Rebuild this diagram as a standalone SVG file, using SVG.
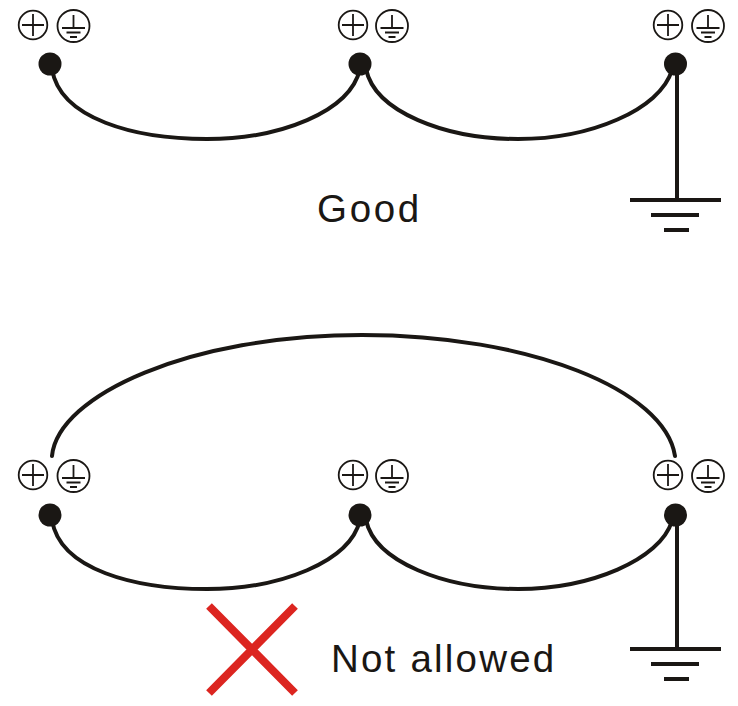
<svg xmlns="http://www.w3.org/2000/svg" width="738" height="706" viewBox="0 0 738 706">
<defs>
<style>
.w{fill:none;stroke:#1a1714;stroke-width:4;stroke-linecap:round}
.g{fill:none;stroke:#1a1714;stroke-width:4}
.s{fill:none;stroke:#1a1714;stroke-width:1.8}
.t{font-family:"Liberation Sans",Arial,sans-serif;font-size:38.500px;fill:#1a1714;letter-spacing:2.200px}
.d{fill:#1a1714}
</style>
<g id="pl"><circle cx="0" cy="0" r="14.300" class="s"/><path d="M-11 0H11M0-11V11" class="s"/></g>
<g id="pe"><circle cx="0" cy="0" r="16" class="s"/><path d="M-11.500 2H11.500M0-11V2M-7 6.500H7M-3.500 11H3.500" class="s"/></g>
<g id="gnd"><path d="M-46 0H45" class="g"/><path d="M-25 15H23" class="g"/><path d="M-12 30H13" class="g"/></g>
</defs>
<rect width="738" height="706" fill="#fff"/>
<g id="connectors">
<path class="w" d="M52 69C60 119 135 139 207 139C280 139 350 112 360 69"/>
<path class="w" d="M366 69C375 112 445 139 518 139C590 139 660 110 672 70"/>
<path class="w" d="M677 70V200"/>
<path class="w" d="M52 456C58 395 190 335 362 335C530 335 665 390 675 456"/>
<path class="w" d="M52 520C60 570 135 589 207 589C280 589 350 562 360 520"/>
<path class="w" d="M366 520C375 562 445 589 518 589C590 589 660 560 672 521"/>
<path class="w" d="M677 521V649"/>
</g>
<g id="node-top-left"><use href="#pl" x="33" y="25"/><use href="#pe" x="73.500" y="26"/><circle class="d" cx="50" cy="64" r="11.500"/></g>
<g id="node-top-mid"><use href="#pl" x="353" y="25"/><use href="#pe" x="392" y="26"/><circle class="d" cx="360" cy="64" r="11.500"/></g>
<g id="node-top-right"><use href="#pl" x="668" y="25"/><use href="#pe" x="708" y="26"/><circle class="d" cx="675.500" cy="64" r="11.500"/></g>
<g id="ground-top"><use href="#gnd" x="676" y="200"/></g>
<g id="label-good"><text class="t" x="317" y="222" style="letter-spacing:2.700px">Good</text></g>
<g id="node-bottom-left"><use href="#pl" x="33" y="475"/><use href="#pe" x="73.500" y="476"/><circle class="d" cx="50" cy="515" r="11.500"/></g>
<g id="node-bottom-mid"><use href="#pl" x="353" y="475"/><use href="#pe" x="392" y="476"/><circle class="d" cx="360" cy="515" r="11.500"/></g>
<g id="node-bottom-right"><use href="#pl" x="668" y="475"/><use href="#pe" x="708" y="476"/><circle class="d" cx="675.500" cy="515" r="11.500"/></g>
<g id="ground-bottom"><use href="#gnd" x="676" y="649"/></g>
<g id="cross"><path d="M209 606L295 693M295 606L209 693" fill="none" stroke="#dc2520" stroke-width="8"/></g>
<g id="label-not-allowed"><text class="t" x="331" y="672">Not allowed</text></g>
</svg>
